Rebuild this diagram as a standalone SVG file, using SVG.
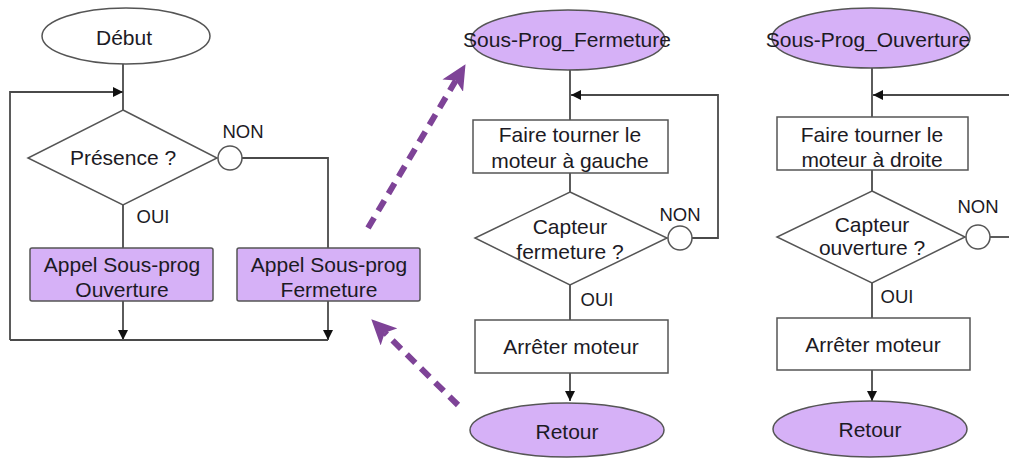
<svg xmlns="http://www.w3.org/2000/svg" width="1009" height="459" viewBox="0 0 1009 459">
<style>
.ln{fill:none;stroke:#4a4a4a;stroke-width:1.8}
.nd{fill:#fff;stroke:#555;stroke-width:1.5}
.pp{fill:#d6b1f7;stroke:#555;stroke-width:1.5}
.t{font-family:"Liberation Sans",Arial,sans-serif;font-size:21px;fill:#1c1a24;text-anchor:middle}
.s{font-family:"Liberation Sans",Arial,sans-serif;font-size:18.5px;fill:#1c1a24;text-anchor:middle}
.da{fill:none;stroke:#7e4397;stroke-width:6;stroke-dasharray:12 8}
</style>
<defs>
<marker id="ah" markerUnits="userSpaceOnUse" markerWidth="10" markerHeight="10" refX="10" refY="5" orient="auto">
<path d="M0,0 L10,5 L0,10 z" fill="#111"/>
</marker>
<marker id="big" markerUnits="userSpaceOnUse" markerWidth="26" markerHeight="24" refX="6" refY="12" orient="auto">
<path d="M0,0 L25,12 L0,24 L6,12 z" fill="#7e4397"/>
</marker>
</defs>
<rect width="1009" height="459" fill="#fff"/>

<g id="connectors">
<path class="ln" d="M123,64 V110"/>
<path class="ln" d="M10,340 V92 H123" marker-end="url(#ah)"/>
<path class="ln" d="M242,158 H328 V248"/>
<path class="ln" d="M123,205 V248"/>
<path class="ln" d="M123,301 V340" marker-end="url(#ah)"/>
<path class="ln" d="M328,301 V340" marker-end="url(#ah)"/>
<path class="ln" d="M10,340 H328"/>
<path class="ln" d="M570,70 V120"/>
<path class="ln" d="M692,238 H718 V95 H571" marker-end="url(#ah)"/>
<path class="ln" d="M570,173 V192"/>
<path class="ln" d="M570,285 V320"/>
<path class="ln" d="M570,373 V401" marker-end="url(#ah)"/>
<path class="ln" d="M872,68 V117"/>
<path class="ln" d="M1009,95 H873" marker-end="url(#ah)"/>
<path class="ln" d="M990,237 H1009"/>
<path class="ln" d="M872,170 V191"/>
<path class="ln" d="M872,283 V318"/>
<path class="ln" d="M872,370 V401" marker-end="url(#ah)"/>
<path class="da" d="M368,228 L455.8,80.5" marker-end="url(#big)"/>
<path class="da" d="M458,405 L384.8,332.7" marker-end="url(#big)"/>
</g>

<g id="debut">
<ellipse class="nd" cx="126" cy="36" rx="84" ry="28"/>
<text class="t" x="124" y="45">Début</text>
</g>
<g id="presence">
<polygon class="nd" points="123,110 217,158 123,205 28,158"/>
<text class="t" x="123" y="165">Présence ?</text>
<circle class="nd" cx="230" cy="158" r="12"/>
<text class="s" x="243" y="138">NON</text>
<text class="s" x="153" y="223">OUI</text>
</g>
<g id="appel-ouverture">
<rect class="pp" x="30" y="248" width="183" height="53" rx="2"/>
<text class="t" x="122" y="272">Appel Sous-prog</text>
<text class="t" x="122" y="297">Ouverture</text>
</g>
<g id="appel-fermeture">
<rect class="pp" x="237" y="248" width="183" height="53" rx="2"/>
<text class="t" x="329" y="272">Appel Sous-prog</text>
<text class="t" x="329" y="297">Fermeture</text>
</g>

<g id="sp-fermeture">
<ellipse class="pp" cx="568" cy="40" rx="97" ry="30"/>
<text class="t" x="567" y="47">Sous-Prog_Fermeture</text>
</g>
<g id="tourner-gauche">
<rect class="nd" x="473" y="120" width="195" height="53"/>
<text class="t" x="570" y="142">Faire tourner le</text>
<text class="t" x="570" y="168">moteur à gauche</text>
</g>
<g id="capteur-fermeture">
<polygon class="nd" points="570,192 667,238 570,285 475,238"/>
<text class="t" x="570" y="234">Capteur</text>
<text class="t" x="570" y="259">fermeture ?</text>
<circle class="nd" cx="680" cy="238" r="12"/>
<text class="s" x="680" y="221">NON</text>
<text class="s" x="597" y="306">OUI</text>
</g>
<g id="arreter-1">
<rect class="nd" x="475" y="320" width="193" height="53"/>
<text class="t" x="571" y="354">Arrêter moteur</text>
</g>
<g id="retour-1">
<ellipse class="pp" cx="567" cy="430" rx="97" ry="27"/>
<text class="t" x="567" y="439">Retour</text>
</g>

<g id="sp-ouverture">
<ellipse class="pp" cx="871" cy="38" rx="99" ry="30"/>
<text class="t" x="868" y="47">Sous-Prog_Ouverture</text>
</g>
<g id="tourner-droite">
<rect class="nd" x="777" y="117" width="191" height="53"/>
<text class="t" x="872" y="142">Faire tourner le</text>
<text class="t" x="872" y="167">moteur à droite</text>
</g>
<g id="capteur-ouverture">
<polygon class="nd" points="872,191 965,237 872,283 777,237"/>
<text class="t" x="872" y="232">Capteur</text>
<text class="t" x="872" y="255">ouverture ?</text>
<circle class="nd" cx="978" cy="237" r="12"/>
<text class="s" x="978" y="213">NON</text>
<text class="s" x="897" y="303">OUI</text>
</g>
<g id="arreter-2">
<rect class="nd" x="777" y="318" width="193" height="52"/>
<text class="t" x="873" y="352">Arrêter moteur</text>
</g>
<g id="retour-2">
<ellipse class="pp" cx="870" cy="429" rx="97" ry="28"/>
<text class="t" x="870" y="437">Retour</text>
</g>
</svg>
